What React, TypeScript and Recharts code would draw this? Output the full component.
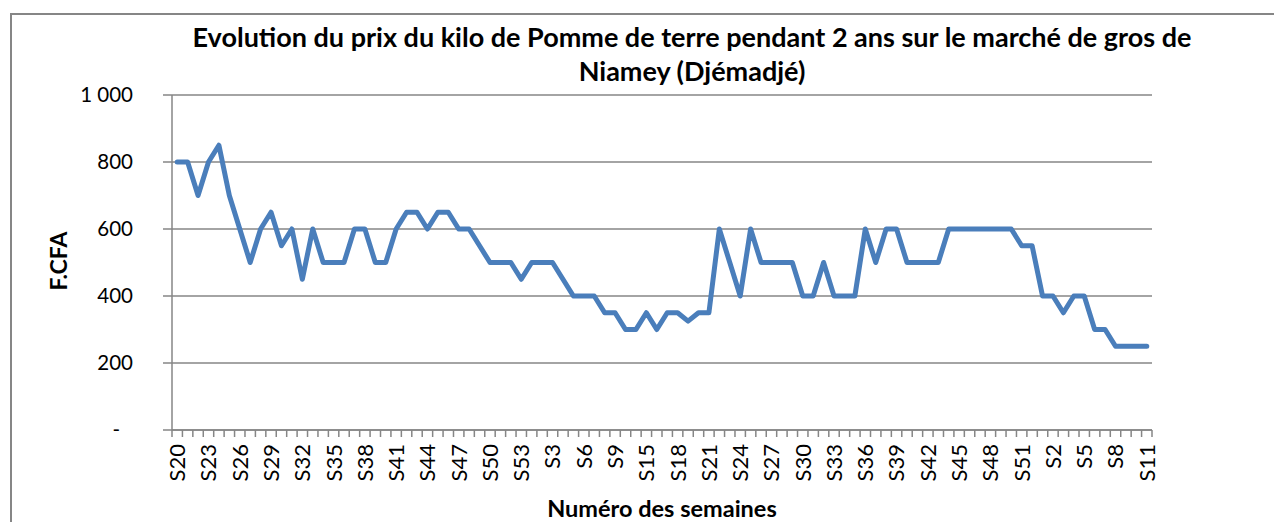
import React from "react";
import { LineChart, Line, XAxis, YAxis, CartesianGrid } from "recharts";

// weekly wholesale price of a kilo of potatoes, Niamey (Djémadjé)
const weeks: string[] = [
  "S20", "S21", "S22", "S23", "S24", "S25", "S26", "S27", "S28", "S29",
  "S30", "S31", "S32", "S33", "S34", "S35", "S36", "S37", "S38", "S39",
  "S40", "S41", "S42", "S43", "S44", "S45", "S46", "S47", "S48", "S49",
  "S50", "S51", "S52", "S53", "S1", "S2", "S3", "S4", "S5", "S6",
  "S7", "S8", "S9", "S10", "S14", "S15", "S16", "S17", "S18", "S19",
  "S20", "S21", "S22", "S23", "S24", "S25", "S26", "S27", "S28", "S29",
  "S30", "S31", "S32", "S33", "S34", "S35", "S36", "S37", "S38", "S39",
  "S40", "S41", "S42", "S43", "S44", "S45", "S46", "S47", "S48", "S49",
  "S50", "S51", "S52", "S1", "S2", "S3", "S4", "S5", "S6", "S7",
  "S8", "S9", "S10", "S11",
];

const prices: number[] = [
  800, 800, 700, 800, 850, 700, 600, 500, 600, 650,
  550, 600, 450, 600, 500, 500, 500, 600, 600, 500,
  500, 600, 650, 650, 600, 650, 650, 600, 600, 550,
  500, 500, 500, 450, 500, 500, 500, 450, 400, 400,
  400, 350, 350, 300, 300, 350, 300, 350, 350, 325,
  350, 350, 600, 500, 400, 600, 500, 500, 500, 500,
  400, 400, 500, 400, 400, 400, 600, 500, 600, 600,
  500, 500, 500, 500, 600, 600, 600, 600, 600, 600,
  600, 550, 550, 400, 400, 350, 400, 400, 300, 300,
  250, 250, 250, 250,
];

const yTicks = [0, 200, 400, 600, 800, 1000];

const data = weeks.map((w, i) => ({ key: i, week: w, prix: prices[i] }));

const FONT = "Lato, 'Noto Sans', sans-serif";
const AXIS = "#868686";
const BAND = 980 / weeks.length;

// eslint-disable-next-line @typescript-eslint/no-explicit-any
function WeekTick({ x, y, index }: any) {
  const label = weeks[index];
  return (
    <g>
      <line x1={x - BAND / 2} y1={y} x2={x - BAND / 2} y2={y + 7} stroke={AXIS} strokeWidth={1.5} />
      {index === weeks.length - 1 && (
        <line x1={x + BAND / 2} y1={y} x2={x + BAND / 2} y2={y + 7} stroke={AXIS} strokeWidth={1.5} />
      )}
      {index % 3 === 0 && (
        <text
          transform={`translate(${x},${y + 14}) rotate(-90)`}
          textAnchor="end"
          dy="0.36em"
          fontSize={22}
          fontFamily={FONT}
          fill="#000"
        >
          {label}
        </text>
      )}
    </g>
  );
}

// eslint-disable-next-line @typescript-eslint/no-explicit-any
function PriceTick({ x, y, payload }: any) {
  const v = payload.value as number;
  const txt = v === 0 ? "-" : v >= 1000 ? "1 000" : String(v);
  return (
    <text
      x={v === 0 ? x - 13 : x}
      y={y}
      dy="0.36em"
      textAnchor="end"
      fontSize={20.5}
      fontFamily={FONT}
      fill="#000"
    >
      {txt}
    </text>
  );
}

export default function App() {
  return (
    <div
      style={{
        position: "absolute",
        left: 0,
        top: 0,
        width: 1274,
        height: 522,
        background: "#fff",
        overflow: "hidden",
        fontFamily: FONT,
      }}
    >
      <div
        style={{
          position: "absolute",
          left: 10,
          top: 13,
          width: 1300,
          height: 600,
          borderTop: `2px solid ${AXIS}`,
          borderLeft: `2px solid ${AXIS}`,
        }}
      />
      <div
        style={{
          position: "absolute",
          left: 142,
          width: 1100,
          top: 20,
          textAlign: "center",
          fontWeight: 700,
          fontSize: 27,
          lineHeight: "34px",
          color: "#000",
        }}
      >
        Evolution du prix du kilo de Pomme de terre pendant 2 ans sur le marché de gros de
        <br />
        Niamey (Djémadjé)
      </div>
      <div
        style={{
          position: "absolute",
          left: 58 - 60,
          top: 261 - 14,
          width: 120,
          height: 28,
          lineHeight: "28px",
          textAlign: "center",
          fontWeight: 700,
          fontSize: 23,
          transform: "rotate(-90deg)",
          color: "#000",
        }}
      >
        F.CFA
      </div>
      <div
        style={{
          position: "absolute",
          left: 462,
          width: 400,
          top: 494,
          textAlign: "center",
          fontWeight: 700,
          fontSize: 23.5,
          lineHeight: "28px",
          color: "#000",
        }}
      >
        Numéro des semaines
      </div>
      <div style={{ position: "absolute", left: 0, top: 0 }}>
        <LineChart
          width={1274}
          height={522}
          data={data}
          margin={{ top: 95, right: 122, bottom: 0, left: 0 }}
        >
          <CartesianGrid vertical={false} stroke={AXIS} strokeWidth={1.5} />
          <XAxis
            dataKey="key"
            interval={0}
            height={92}
            padding={{ left: BAND / 2, right: BAND / 2 }}
            axisLine={{ stroke: AXIS, strokeWidth: 1.5 }}
            tickLine={false}
            tickSize={0}
            tickMargin={0}
            tick={<WeekTick />}
          />
          <YAxis
            width={172}
            domain={[0, 1000]}
            ticks={yTicks}
            interval={0}
            axisLine={{ stroke: AXIS, strokeWidth: 1.5 }}
            tickLine={{ stroke: AXIS, strokeWidth: 1.5 }}
            tickSize={9}
            tickMargin={30}
            tick={<PriceTick />}
          />
          <Line
            type="linear"
            dataKey="prix"
            stroke="#4a7ebb"
            strokeWidth={5}
            strokeLinejoin="round"
            strokeLinecap="round"
            dot={false}
            activeDot={false}
            isAnimationActive={false}
          />
        </LineChart>
      </div>
    </div>
  );
}
